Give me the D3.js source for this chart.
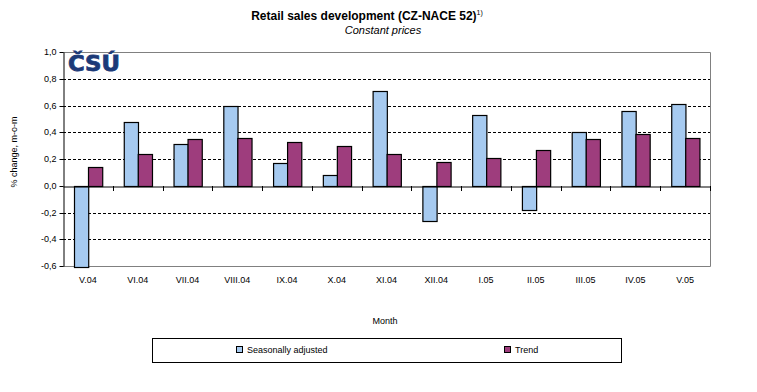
<!DOCTYPE html>
<html>
<head>
<meta charset="utf-8">
<script src="https://cdnjs.cloudflare.com/ajax/libs/d3/7.8.5/d3.min.js"></script>
<style>
  body { margin: 0; background: #fff; }
  svg { display: block; font-family: "Liberation Sans", Arial, sans-serif; }
</style>
</head>
<body>
<svg id="chart"></svg>
<script>
// Data
const months = ['V.04', 'VI.04', 'VII.04', 'VIII.04', 'IX.04', 'X.04', 'XI.04',
                'XII.04', 'I.05', 'II.05', 'III.05', 'IV.05', 'V.05'];
const seasonallyAdjusted = [-0.61, 0.48, 0.31, 0.60, 0.17, 0.08, 0.71, -0.26, 0.53, -0.18, 0.40, 0.56, 0.61];
const trend = [0.14, 0.24, 0.35, 0.36, 0.33, 0.30, 0.24, 0.18, 0.21, 0.27, 0.35, 0.39, 0.36];
const seriesNames = ['Seasonally adjusted', 'Trend'];
const yTicks = [-0.6, -0.4, -0.2, 0, 0.2, 0.4, 0.6, 0.8, 1.0];

const width = 757;
const height = 392;
const margin = { top: 52, right: 47, bottom: 126, left: 63 };
const colors = ['#a6caf0', '#9e3d7d'];

const svg = d3.select('#chart')
    .attr('width', width)
    .attr('height', height);

// Scales
const xScale = d3.scaleBand()
    .domain(months)
    .range([margin.left, width - margin.right]);

const xInner = d3.scaleBand()
    .domain(seriesNames)
    .range([0, xScale.bandwidth()])
    .paddingOuter(0.75)
    .paddingInner(0);

const yScale = d3.scaleLinear()
    .domain([-0.6, 1.0])
    .range([height - margin.bottom, margin.top]);

const fmt = d => d3.format('.1f')(d).replace('.', ',').replace('−', '-');
const py = v => Math.round(yScale(v)) + 0.5;

// Gridlines (dashed)
svg.append('g')
    .selectAll('line')
    .data(yTicks.filter(d => d !== 0 && d !== 1.0 && d !== -0.6))
    .enter()
    .append('line')
    .attr('x1', margin.left)
    .attr('x2', width - margin.right)
    .attr('y1', d => py(d))
    .attr('y2', d => py(d))
    .attr('stroke', '#000')
    .attr('stroke-dasharray', '3,2');

// Plot border (top, right, bottom in grey)
const plotTop = py(1.0);
const plotBottom = py(-0.6);
const plotRight = width - margin.right + 0.5;
svg.append('path')
    .attr('d', `M${margin.left},${plotTop}H${plotRight}V${plotBottom}H${margin.left}`)
    .attr('fill', 'none')
    .attr('stroke', '#808080');

// Bars
const rows = months.map((m, i) => ({ month: m, values: [seasonallyAdjusted[i], trend[i]] }));
const groups = svg.append('g')
    .selectAll('g')
    .data(rows)
    .enter()
    .append('g')
    .attr('transform', d => `translate(${xScale(d.month)},0)`);

groups.selectAll('rect')
    .data(d => d.values.map((v, j) => ({ name: seriesNames[j], value: v, idx: j })))
    .enter()
    .append('rect')
    .attr('x', d => Math.round(xInner(d.name)) + 0.5)
    .attr('width', xInner.bandwidth())
    .attr('y', d => py(Math.max(0, d.value)))
    .attr('height', d => Math.abs(Math.round(yScale(d.value)) - Math.round(yScale(0))))
    .attr('fill', d => colors[d.idx])
    .attr('stroke', '#000')
    .attr('stroke-width', 1.2);

// Y axis
const yAxis = svg.append('g')
    .attr('transform', `translate(${margin.left + 0.5},0)`)
    .call(d3.axisLeft(yScale).tickValues(yTicks).tickFormat(fmt).tickSizeInner(4).tickSizeOuter(0).tickPadding(3));
yAxis.select('.domain').attr('stroke', '#000');
yAxis.selectAll('.tick text')
    .attr('font-size', 9)
    .attr('font-family', '"Liberation Sans", Arial, sans-serif')
    .attr('fill', '#000');
yAxis.selectAll('.tick').attr('transform', d => `translate(0,${py(d)})`);

// X axis at zero
const xAxis = svg.append('g')
    .attr('transform', `translate(0,${py(0)})`)
    .call(d3.axisBottom(xScale).tickSize(0).tickFormat(''));
xAxis.select('.domain').attr('stroke', '#000');
xAxis.selectAll('.tick').remove();

// category separators (tick marks hanging below zero line)
const sepX = months.map(m => xScale(m)).slice(1).concat([xScale.range()[1]]);
svg.append('g')
    .selectAll('line')
    .data(sepX)
    .enter()
    .append('line')
    .attr('x1', d => Math.round(d) + 0.5)
    .attr('x2', d => Math.round(d) + 0.5)
    .attr('y1', Math.round(yScale(0)))
    .attr('y2', Math.round(yScale(0)) + 5)
    .attr('stroke', '#000');

// X labels
svg.append('g')
    .selectAll('text')
    .data(months)
    .enter()
    .append('text')
    .attr('x', d => xScale(d) + xScale.bandwidth() / 2)
    .attr('y', height - margin.bottom + 17)
    .attr('text-anchor', 'middle')
    .attr('font-size', 9)
    .text(d => d);

// Titles
const title = svg.append('text')
    .attr('x', 367)
    .attr('y', 20)
    .attr('text-anchor', 'middle')
    .attr('font-size', 12)
    .attr('font-weight', 'bold');
title.append('tspan').text('Retail sales development (CZ-NACE 52)');
title.append('tspan').attr('font-size', 7).attr('font-weight', 'normal').attr('dy', -5).text('1)');

svg.append('text')
    .attr('x', 383)
    .attr('y', 34)
    .attr('text-anchor', 'middle')
    .attr('font-size', 11)
    .attr('font-style', 'italic')
    .text('Constant prices');

// Y label
svg.append('text')
    .attr('transform', 'translate(17,152) rotate(-90)')
    .attr('text-anchor', 'middle')
    .attr('font-size', 9)
    .text('% change, m-o-m');

// X axis label
svg.append('text')
    .attr('x', 385)
    .attr('y', 324)
    .attr('text-anchor', 'middle')
    .attr('font-size', 9)
    .text('Month');

// Logo
svg.append('text')
    .attr('x', 68)
    .attr('y', 71)
    .attr('font-size', 21)
    .attr('font-weight', 'bold')
    .attr('font-family', '"DejaVu Sans", sans-serif')
    .attr('textLength', 52)
    .attr('lengthAdjust', 'spacingAndGlyphs')
    .attr('fill', '#1c3a78')
    .attr('stroke', '#1c3a78')
    .attr('stroke-width', 0.8)
    .text('ČSÚ');

// Legend
const legend = svg.append('g');
legend.append('rect')
    .attr('x', 152.5)
    .attr('y', 338.5)
    .attr('width', 469)
    .attr('height', 24)
    .attr('fill', '#fff')
    .attr('stroke', '#000');

const legendX = [236, 504];
seriesNames.forEach((name, i) => {
    legend.append('rect')
        .attr('x', legendX[i] + 0.5)
        .attr('y', 346.5)
        .attr('width', 6)
        .attr('height', 6)
        .attr('fill', colors[i])
        .attr('stroke', '#000');
    legend.append('text')
        .attr('x', legendX[i] + 11)
        .attr('y', 353)
        .attr('font-size', 9)
        .text(name);
});
</script>
</body>
</html>
